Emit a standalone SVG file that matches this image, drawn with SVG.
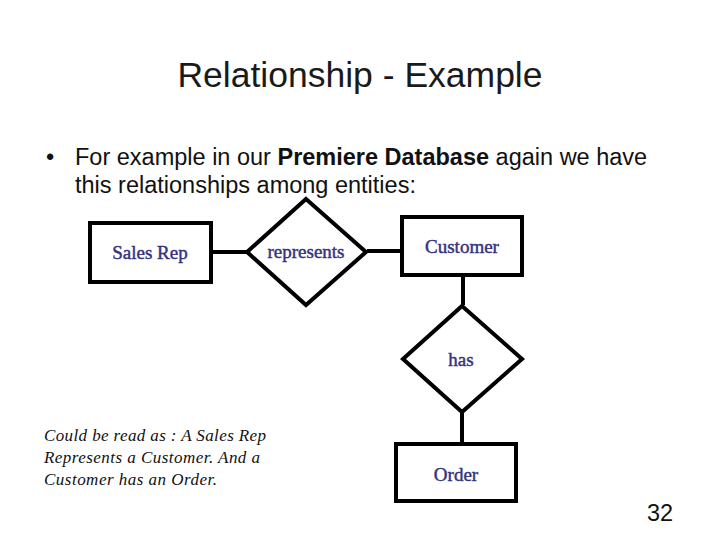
<svg xmlns="http://www.w3.org/2000/svg" width="720" height="540" viewBox="0 0 720 540">
<style>
.title{font-family:"Liberation Sans",Arial,sans-serif;font-size:35.5px;fill:#1a1a1a}
.body{font-family:"Liberation Sans",Arial,sans-serif;font-size:23.5px;fill:#111}
.shape{fill:#fff;stroke:#000;stroke-width:4}
.lbl{font-family:"Liberation Serif","Times New Roman",serif;font-size:19px;fill:#33337f;stroke:#33337f;stroke-width:0.45;text-anchor:middle}
.note{font-family:"Liberation Serif","Times New Roman",serif;font-style:italic;font-size:17px;fill:#111}
.conn{stroke:#000;stroke-width:4;fill:none}
</style>
<rect width="720" height="540" fill="#fff"/>
<text class="title" x="360" y="87" text-anchor="middle">Relationship - Example</text>
<text class="body" x="46" y="165">•</text>
<text class="body" x="75" y="165">For example in our <tspan font-weight="bold">Premiere Database</tspan> again we have</text>
<text class="body" x="75" y="193">this relationships among entities:</text>
<g id="connectors">
<line class="conn" x1="211" y1="252" x2="246" y2="252"/>
<line class="conn" x1="367" y1="251" x2="401" y2="251"/>
<line class="conn" x1="463" y1="276" x2="463" y2="305"/>
<line class="conn" x1="462" y1="413" x2="462" y2="443"/>
</g>
<g id="sales-rep">
<rect class="shape" x="90" y="223" width="121" height="59"/>
<text class="lbl" x="150" y="259">Sales Rep</text>
</g>
<g id="represents">
<polygon class="shape" points="306,199 366,252 306,305 247,252"/>
<text class="lbl" x="306" y="258">represents</text>
</g>
<g id="customer">
<rect class="shape" x="402" y="217" width="120" height="58"/>
<text class="lbl" x="462" y="253">Customer</text>
</g>
<g id="has">
<polygon class="shape" points="462,306 522,359 462,412 403,359"/>
<text class="lbl" x="461" y="366">has</text>
</g>
<g id="order">
<rect class="shape" x="396" y="444" width="120" height="57"/>
<text class="lbl" x="456" y="481">Order</text>
</g>
<text class="note" x="44" y="441" textLength="222" lengthAdjust="spacing">Could be read as : A Sales Rep</text>
<text class="note" x="44" y="463" textLength="216" lengthAdjust="spacing">Represents a Customer. And a</text>
<text class="note" x="44" y="485" textLength="173" lengthAdjust="spacing">Customer has an Order.</text>
<text class="body" x="660" y="521" text-anchor="middle" font-size="20">32</text>
</svg>
